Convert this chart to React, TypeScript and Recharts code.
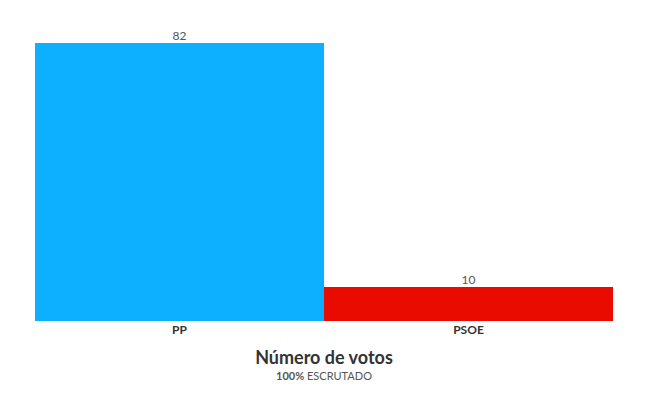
import React from 'react';
import { BarChart, Bar, XAxis, YAxis, Cell, LabelList } from 'recharts';

// partidos y votos
const parties = ['PP', 'PSOE'];
const votes = [82, 10];
const COLORS = ['#0db0ff', '#ea0b00'];

const data = parties.map((name, i) => ({ name, value: votes[i] }));

const FONT = 'Lato, "Open Sans", sans-serif';

const App = () => {
  return (
    <div style={{ position: 'absolute', left: 0, top: 0, width: 655, height: 400, background: '#fff', fontFamily: FONT }}>
      <BarChart
        width={655}
        height={340}
        data={data}
        margin={{ top: 43, right: 42, bottom: 0, left: 35 }}
        barCategoryGap={0}
      >
        <XAxis
          dataKey="name"
          height={19}
          axisLine={false}
          tickLine={false}
          tickSize={0}
          tickMargin={4}
          tick={{ fill: '#333', fontSize: 12, fontWeight: 700, fontFamily: FONT }}
        />
        <YAxis hide domain={[0, 82]} />
        <Bar dataKey="value" isAnimationActive={false}>
          {data.map((entry, index) => (
            <Cell key={`cell-${index}`} fill={COLORS[index % COLORS.length]} />
          ))}
          <LabelList dataKey="value" position="top" offset={3} fill="#555" fontSize={12} fontFamily={FONT} />
        </Bar>
      </BarChart>
      <div style={{ position: 'absolute', left: 0, width: 648, top: 346, textAlign: 'center', fontSize: 18, fontWeight: 700, color: '#333' }}>
        Número de votos
      </div>
      <div style={{ position: 'absolute', left: 0, width: 648, top: 369, textAlign: 'center', fontSize: 11, color: '#555' }}>
        <b>100%</b> ESCRUTADO
      </div>
    </div>
  );
};

export default App;
